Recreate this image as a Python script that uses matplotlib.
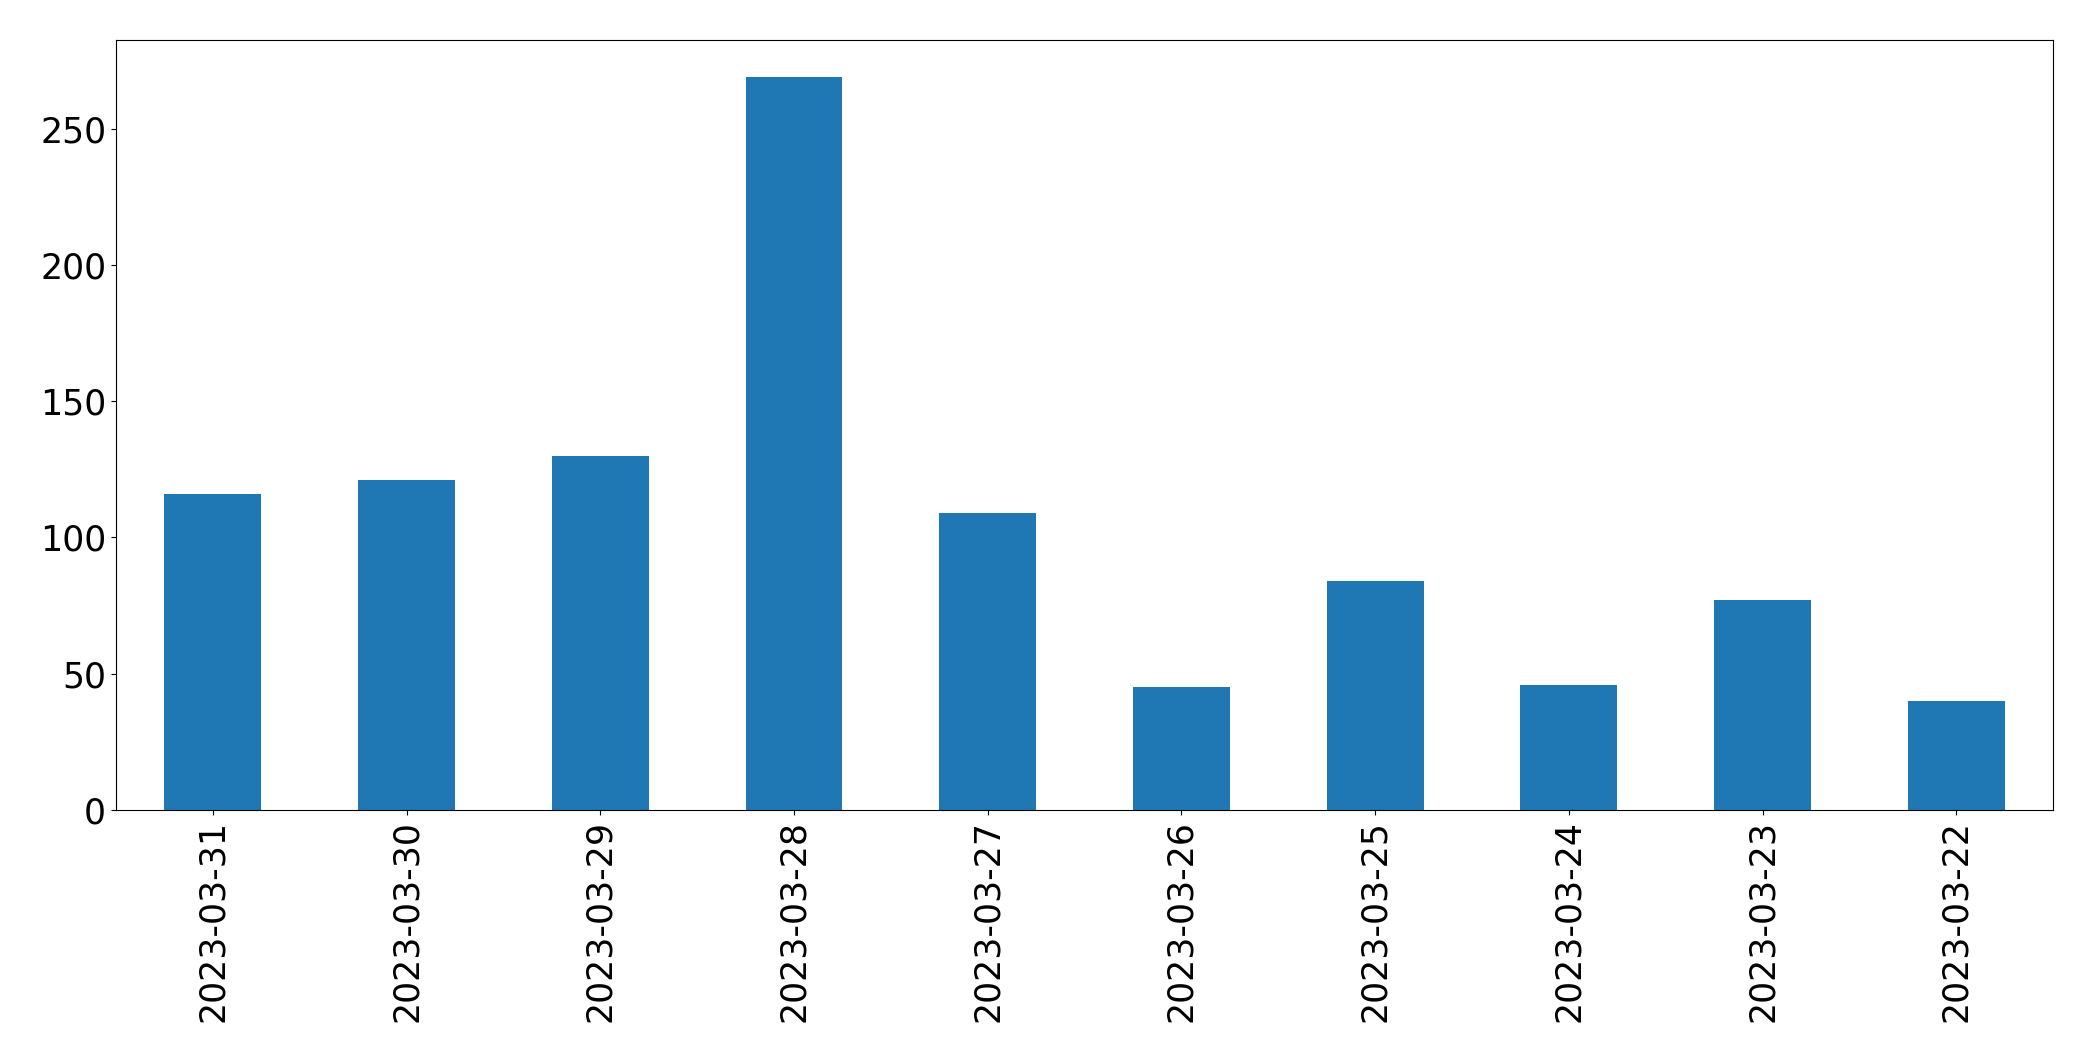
import matplotlib

matplotlib.use("Agg")
import matplotlib.pyplot as plt
import pandas as pd

dates = [
    "2023-03-31", "2023-03-30", "2023-03-29", "2023-03-28", "2023-03-27",
    "2023-03-26", "2023-03-25", "2023-03-24", "2023-03-23", "2023-03-22",
]
counts = [116, 121, 130, 269, 109, 45, 84, 46, 77, 40]

series = pd.Series(counts, index=dates)

fig, ax = plt.subplots(figsize=(20.93, 10.61), dpi=100)
series.plot(kind="bar", ax=ax, color="#1f77b4", width=0.5)
ax.tick_params(axis="both", labelsize=25)
fig.subplots_adjust(left=0.0554, right=0.981, top=0.962, bottom=0.2366)
fig.savefig("out.png", dpi=100)
